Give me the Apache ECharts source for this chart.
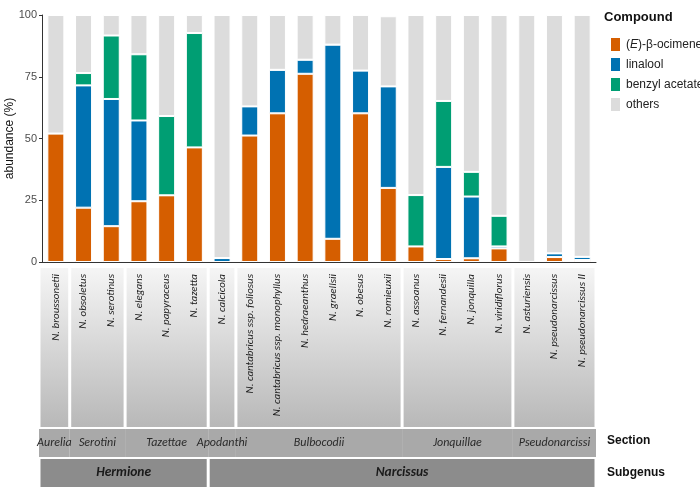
<!DOCTYPE html>
<html>
<head>
<meta charset="utf-8">
<script src="https://cdn.jsdelivr.net/npm/echarts@6/dist/echarts.min.js"></script>
<style>
  html, body { margin: 0; padding: 0; background: #fff; }
  #chart { width: 700px; height: 489px; }
</style>
</head>
<body>
<div id="chart"></div>
<script>
// Species, in plotting order
const species = [
  'N. broussonetii', 'N. obsoletus', 'N. serotinus', 'N. elegans', 'N. papyraceus',
  'N. tazetta', 'N. calcicola', 'N. cantabricus ssp. foliosus',
  'N. cantabricus ssp. monophyllus', 'N. hedraeanthus', 'N. graellsii', 'N. obesus',
  'N. romieuxii', 'N. assoanus', 'N. fernandesii', 'N. jonquilla', 'N. viridiflorus',
  'N. asturiensis', 'N. pseudonarcissus', 'N. pseudonarcissus II'
];

// abundance (%) per compound
const ocimene       = [52.0, 22.0, 14.5, 24.6, 27.0, 46.4, 0.0, 51.2, 60.2, 76.2, 9.4, 60.2, 30.0, 6.3, 1.2, 1.5, 5.5, 0.0, 2.0, 0.8];
const linalool      = [0.0, 49.5, 51.5, 32.7, 0.0, 0.0, 1.6, 11.8, 17.6, 5.7, 78.6, 17.3, 41.1, 0.0, 37.3, 25.0, 0.8, 0.0, 1.5, 1.3];
const benzylAcetate = [0.0, 5.0, 25.7, 26.8, 32.1, 46.3, 0.0, 0.0, 0.0, 0.0, 0.0, 0.0, 0.0, 20.8, 26.7, 10.0, 12.4, 0.0, 0.0, 0.0];
const others        = [48.0, 23.5, 8.3, 15.9, 40.9, 7.3, 98.4, 37.0, 22.2, 18.1, 12.0, 22.5, 28.4, 72.9, 34.8, 63.5, 81.3, 100.0, 96.5, 97.9];

const compounds = ['(E)-β-ocimene', 'linalool', 'benzyl acetate', 'others'];
const compoundColors = ['#D55E00', '#0072B2', '#009E73', '#DCDCDC'];
const yTicks = [0, 25, 50, 75, 100];

// taxonomy strips: index of first / last species in each group
const sectionNames = ['Aurelia', 'Serotini', 'Tazettae', 'Apodanthi', 'Bulbocodii', 'Jonquillae', 'Pseudonarcissi'];
const sectionFirst = [0, 1, 3, 6, 7, 13, 17];
const sectionLast  = [0, 2, 5, 6, 12, 16, 19];
const subgenusNames = ['Hermione', 'Narcissus'];
const subgenusFirst = [0, 6];
const subgenusLast  = [5, 19];

const chart = echarts.init(document.getElementById('chart'));

const GRID_X = { left: 42, right: 104, outerBoundsMode: 'none' };
const FONT_SANS = 'Liberation Sans, Arial, sans-serif';
const FONT_LABEL = 'Carlito, Lato, sans-serif';

// rectangle covering categories first..last of a strip grid
function spanRect(api, gap) {
  const first = api.value(0), last = api.value(1);
  const band = api.size([1, 0])[0];
  const a = api.coord([first, 1]);
  const b = api.coord([last, 0]);
  const x0 = a[0] - band / 2 + gap / 2 - (first === 0 ? 3 : 0);
  const x1 = b[0] + band / 2 - gap / 2;
  return { x: x0, y: a[1], width: x1 - x0, height: b[1] - a[1] };
}

const stripAxis = i => ({ type: 'category', gridIndex: i, data: species, show: false });
const stripY = i => ({ type: 'value', gridIndex: i, min: 0, max: 1, show: false });
const groupData = (names, first, last) => names.map((n, i) => [first[i], last[i], n]);

// strip of rectangles with optional centred labels on top
function stripSeries(axis, names, first, last, opts) {
  const data = groupData(names, first, last);
  const base = { type: 'custom', xAxisIndex: axis, yAxisIndex: axis, silent: true, data, encode: { x: [0, 1] } };
  const boxes = {
    ...base, z: 1,
    renderItem: (params, api) => ({ type: 'rect', shape: spanRect(api, opts.gap), style: { fill: opts.fill } })
  };
  if (!opts.font) return [boxes];
  const labels = {
    ...base, z: 3,
    renderItem: (params, api) => {
      const r = spanRect(api, opts.gap);
      return {
        type: 'text',
        style: {
          text: names[params.dataIndex],
          x: r.x + r.width / 2, y: r.y + r.height / 2,
          align: 'center', verticalAlign: 'middle',
          font: opts.font, fill: opts.color
        }
      };
    }
  };
  return [boxes, labels];
}

const barSeries = [ocimene, linalool, benzylAcetate, others].map((vals, i) => ({
  name: compounds[i],
  type: 'bar',
  stack: 'total',
  barWidth: 17,
  data: vals,
  itemStyle: { color: compoundColors[i], borderColor: '#fff', borderWidth: 1 },
  emphasis: { disabled: true }
}));

const panelFill = new echarts.graphic.LinearGradient(0, 0, 0, 1, [
  { offset: 0, color: '#f5f5f5' },
  { offset: 1, color: '#b8b8b8' }
]);

const option = {
  animation: false,
  grid: [
    { ...GRID_X, top: 15, height: 247 },
    { ...GRID_X, top: 268, height: 159 },
    { ...GRID_X, top: 429, height: 28 },
    { ...GRID_X, top: 459, height: 28 }
  ],
  xAxis: [
    {
      type: 'category', gridIndex: 0, data: species, z: 10,
      axisLine: { lineStyle: { color: '#333', width: 1 } },
      axisTick: { alignWithLabel: true, length: 3, lineStyle: { color: '#333' } },
      axisLabel: {
        rotate: 90, interval: 0, margin: 12, color: '#1a1a1a',
        fontStyle: 'italic', fontSize: 11, fontFamily: FONT_LABEL
      }
    },
    stripAxis(1), stripAxis(2), stripAxis(3)
  ],
  yAxis: [
    {
      type: 'value', gridIndex: 0, min: 0, max: 100, interval: 25,
      name: 'abundance (%)', nameLocation: 'middle', nameGap: 26, nameRotate: 90,
      nameMoveOverlap: false,
      nameTextStyle: { color: '#111', fontSize: 12, fontFamily: FONT_SANS },
      axisLine: { show: true, lineStyle: { color: '#333', width: 1 } },
      axisTick: { show: true, length: 3, lineStyle: { color: '#333' } },
      axisLabel: {
        color: '#4d4d4d', fontSize: 11, margin: 5, fontFamily: FONT_SANS,
        customValues: yTicks
      },
      splitLine: { show: false }
    },
    stripY(1), stripY(2), stripY(3)
  ],
  legend: {
    orient: 'vertical', left: 604, top: 31,
    itemWidth: 11, itemHeight: 15, itemGap: 3, icon: 'rect',
    data: compounds, selectedMode: false,
    formatter: n => n === compounds[0] ? '({i|E})-β-ocimene' : n,
    textStyle: {
      color: '#222', fontSize: 12, fontFamily: FONT_SANS,
      rich: { i: { fontStyle: 'italic', fontSize: 12, fontFamily: FONT_SANS, color: '#222' } }
    }
  },
  graphic: [
    { type: 'text', left: 604, top: 11, style: { text: 'Compound', font: 'bold 13px ' + FONT_SANS, fill: '#111' } },
    { type: 'text', left: 607, top: 435, style: { text: 'Section', font: 'bold 12px ' + FONT_SANS, fill: '#111' } },
    { type: 'text', left: 607, top: 467, style: { text: 'Subgenus', font: 'bold 12px ' + FONT_SANS, fill: '#111' } }
  ],
  series: [
    ...barSeries,
    // grey gradient panels behind species names, one per section
    ...stripSeries(1, sectionNames, sectionFirst, sectionLast, { gap: 3, fill: panelFill }),
    // section strip
    ...stripSeries(2, sectionNames, sectionFirst, sectionLast,
      { gap: 0, fill: '#a9a9a9', font: 'italic 12px ' + FONT_LABEL, color: '#2a2a2a' }),
    // subgenus strip
    ...stripSeries(3, subgenusNames, subgenusFirst, subgenusLast,
      { gap: 3, fill: '#8c8c8c', font: 'italic bold 13.5px ' + FONT_LABEL, color: '#1a1a1a' })
  ]
};

chart.setOption(option);
</script>
</body>
</html>
